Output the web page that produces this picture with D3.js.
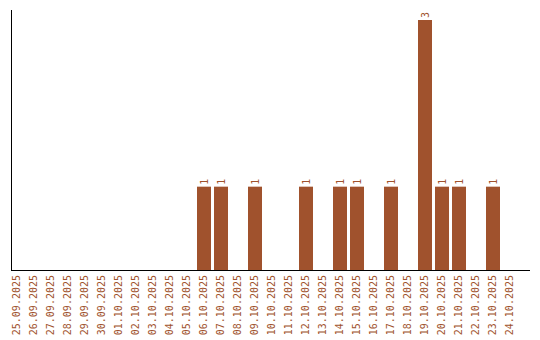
<!DOCTYPE html>
<html>
<head>
<meta charset="utf-8">
<script src="https://cdn.jsdelivr.net/npm/d3@7"></script>
<style>
    body { margin: 0; background: #fff; }
    svg { display: block; }
</style>
</head>
<body>
<svg id="drawing_region"></svg>
<script>
const dates = [
    "25.09.2025", "26.09.2025", "27.09.2025", "28.09.2025", "29.09.2025", "30.09.2025",
    "01.10.2025", "02.10.2025", "03.10.2025", "04.10.2025", "05.10.2025", "06.10.2025",
    "07.10.2025", "08.10.2025", "09.10.2025", "10.10.2025", "11.10.2025", "12.10.2025",
    "13.10.2025", "14.10.2025", "15.10.2025", "16.10.2025", "17.10.2025", "18.10.2025",
    "19.10.2025", "20.10.2025", "21.10.2025", "22.10.2025", "23.10.2025", "24.10.2025"
];
const counts = [
    0, 0, 0, 0, 0, 0,
    0, 0, 0, 0, 0, 1,
    1, 0, 1, 0, 0, 1,
    0, 1, 1, 0, 1, 0,
    3, 1, 1, 0, 1, 0
];

const data = dates.map((d, i) => ({ date: d, count: counts[i] }));

const config = {
    parent: '#drawing_region',
    width: 540,
    height: 340
};

const color = "#a0522d";
const font = "'DejaVu Sans Mono', monospace";

const svg = d3.select(config.parent)
    .attr("width", config.width)
    .attr("height", config.height);

// step 17px, bar 14px
const xscale = d3.scaleBand()
    .domain(dates)
    .range([10, 517])
    .paddingInner(3 / 17)
    .paddingOuter(0)
    .align(0);

const yscale = d3.scaleLinear()
    .domain([0, d3.max(counts)])
    .range([270, 20]);

// bars
svg.selectAll("rect")
    .data(data.filter(d => d.count > 0))
    .enter()
    .append("rect")
    .attr("x", d => xscale(d.date))
    .attr("y", d => yscale(d.count))
    .attr("width", xscale.bandwidth())
    .attr("height", d => yscale(0) - yscale(d.count))
    .attr("fill", color);

// value labels
svg.selectAll("text.value")
    .data(data.filter(d => d.count > 0))
    .enter()
    .append("text")
    .attr("class", "value")
    .attr("transform", d => `translate(${xscale(d.date) + xscale.bandwidth() / 2 + 3.5}, ${yscale(d.count) - 2}) rotate(-90)`)
    .attr("fill", color)
    .attr("font-family", font)
    .attr("font-size", "10px")
    .text(d => d.count);

// date labels
svg.selectAll("text.date")
    .data(data)
    .enter()
    .append("text")
    .attr("class", "date")
    .attr("transform", d => `translate(${xscale(d.date) + xscale.bandwidth() / 2 + 2.5}, 275) rotate(-90)`)
    .attr("text-anchor", "end")
    .attr("fill", color)
    .attr("font-family", font)
    .attr("font-size", "10px")
    .text(d => d.date);

// axis lines
svg.append("line")
    .attr("x1", 11.5).attr("x2", 11.5)
    .attr("y1", 10).attr("y2", 270)
    .attr("stroke", "black")
    .attr("stroke-width", 1);

svg.append("line")
    .attr("x1", 11).attr("x2", 530)
    .attr("y1", 270.5).attr("y2", 270.5)
    .attr("stroke", "black")
    .attr("stroke-width", 1);
</script>
</body>
</html>
